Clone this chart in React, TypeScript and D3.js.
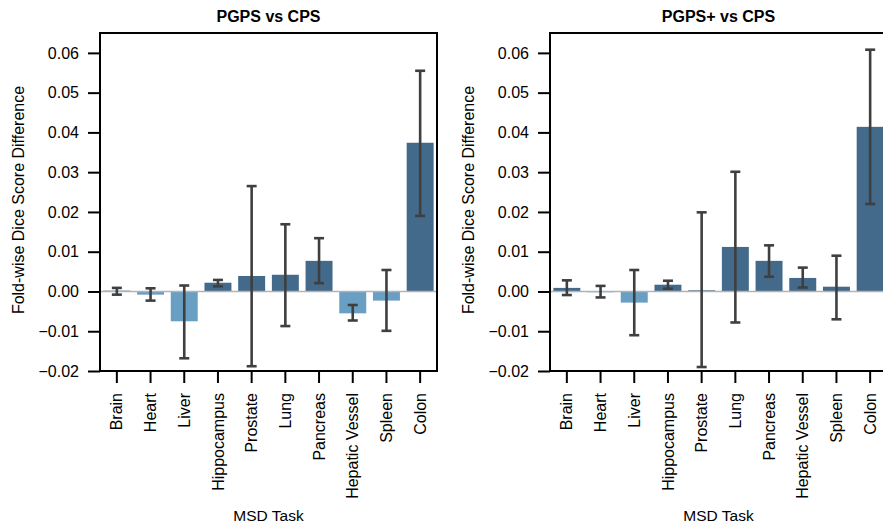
import React, { useEffect, useRef } from 'react';
import * as d3 from 'd3';

const tasks = ['Brain', 'Heart', 'Liver', 'Hippocampus', 'Prostate', 'Lung', 'Pancreas', 'Hepatic Vessel', 'Spleen', 'Colon'];

// PGPS vs CPS
const pgpsMean = [0.0002, -0.0008, -0.0075, 0.0022, 0.0039, 0.0042, 0.0077, -0.0055, -0.0023, 0.0374];
const pgpsLow = [-0.0008, -0.0023, -0.0168, 0.0013, -0.0188, -0.0087, 0.0021, -0.0073, -0.0099, 0.019];
const pgpsHigh = [0.0009, 0.0008, 0.0015, 0.0029, 0.0265, 0.0169, 0.0134, -0.0034, 0.0054, 0.0555];

// PGPS+ vs CPS
const plusMean = [0.0009, -0.0002, -0.0028, 0.0017, 0.0003, 0.0112, 0.0077, 0.0034, 0.0012, 0.0414];
const plusLow = [-0.0009, -0.0015, -0.011, 0.0007, -0.019, -0.0078, 0.0037, 0.001, -0.007, 0.022];
const plusHigh = [0.0028, 0.0014, 0.0054, 0.0027, 0.0199, 0.0301, 0.0116, 0.006, 0.009, 0.0608];

const yTicks = [-0.02, -0.01, 0, 0.01, 0.02, 0.03, 0.04, 0.05, 0.06];

const App = () => {
    const ref = useRef<SVGSVGElement>(null);

    useEffect(() => {
        const svg = d3.select(ref.current);
        svg.selectAll('*').remove();

        const panels = [
            { title: 'PGPS vs CPS', left: 100, mean: pgpsMean, low: pgpsLow, high: pgpsHigh },
            { title: 'PGPS+ vs CPS', left: 550, mean: plusMean, low: plusLow, high: plusHigh },
        ];
        const top = 33;
        const bottom = 371;
        const width = 337;
        const font = '"Liberation Sans", Arial, sans-serif';

        panels.forEach((p) => {
            const g = svg.append('g');
            const x = d3
                .scaleBand()
                .domain(tasks)
                .range([p.left, p.left + width])
                .paddingInner(0.2)
                .paddingOuter(0.1);
            const y = d3.scaleLinear().domain([-0.02, 0.065]).range([bottom, top]);

            // bars
            g.selectAll('rect.bar')
                .data(p.mean)
                .enter()
                .append('rect')
                .attr('x', (d, i) => x(tasks[i]))
                .attr('width', x.bandwidth())
                .attr('y', (d) => y(Math.max(0, d)))
                .attr('height', (d) => Math.abs(y(d) - y(0)))
                .attr('fill', (d) => (d >= 0 ? '#436a8a' : '#6a9fc4'));

            // zero line
            g.append('line')
                .attr('x1', p.left)
                .attr('x2', p.left + width)
                .attr('y1', y(0))
                .attr('y2', y(0))
                .attr('stroke', '#b3b3b3')
                .attr('stroke-width', 1.5);

            // error bars
            const cx = (i) => x(tasks[i]) + x.bandwidth() / 2;
            const eg = g.append('g').attr('stroke', '#3f3f3f').attr('stroke-width', 2.6);
            tasks.forEach((t, i) => {
                eg.append('line').attr('x1', cx(i)).attr('x2', cx(i)).attr('y1', y(p.low[i])).attr('y2', y(p.high[i]));
                [p.low[i], p.high[i]].forEach((v) => {
                    eg.append('line').attr('x1', cx(i) - 5).attr('x2', cx(i) + 5).attr('y1', y(v)).attr('y2', y(v));
                });
            });

            // frame
            g.append('rect')
                .attr('x', p.left)
                .attr('y', top)
                .attr('width', width)
                .attr('height', bottom - top)
                .attr('fill', 'none')
                .attr('stroke', '#000')
                .attr('stroke-width', 2);

            // y axis
            const ya = g.append('g').attr('transform', `translate(${p.left},0)`);
            ya.call(d3.axisLeft(y).tickValues(yTicks).tickSize(12).tickPadding(9).tickFormat(d3.format('.2f')));
            ya.select('.domain').remove();
            ya.selectAll('line').attr('stroke', '#000').attr('stroke-width', 2);
            ya.selectAll('text')
                .attr('font-family', font)
                .attr('font-size', 16)
                .attr('fill', '#000')
                .text((d) => d3.format('.2f')(d).replace('-', '\u2212'));

            // x axis
            const xa = g.append('g').attr('transform', `translate(0,${bottom})`);
            xa.call(d3.axisBottom(x).tickSize(12).tickPadding(10));
            xa.select('.domain').remove();
            xa.selectAll('line').attr('stroke', '#000').attr('stroke-width', 2);
            xa.selectAll('text')
                .attr('font-family', font)
                .attr('font-size', 16)
                .attr('fill', '#000')
                .attr('transform', 'rotate(-90)')
                .attr('text-anchor', 'end')
                .attr('dy', '0.35em')
                .attr('x', -22)
                .attr('y', 0);

            // labels
            g.append('text')
                .attr('x', p.left + width / 2)
                .attr('y', 22)
                .attr('text-anchor', 'middle')
                .attr('font-family', font)
                .attr('font-weight', 'bold')
                .attr('font-size', 16)
                .text(p.title);

            g.append('text')
                .attr('x', p.left + width / 2)
                .attr('y', 521)
                .attr('text-anchor', 'middle')
                .attr('font-family', font)
                .attr('font-size', 15.5)
                .text('MSD Task');

            g.append('text')
                .attr('transform', `translate(${p.left - 76},${(top + bottom) / 2 - 2}) rotate(-90)`)
                .attr('text-anchor', 'middle')
                .attr('font-family', font)
                .attr('font-size', 16)
                .text('Fold-wise Dice Score Difference');
        });
    }, []);

    return (
        <svg
            ref={ref}
            width={883}
            height={527}
            style={{ position: 'absolute', left: 0, top: 0, background: '#fff' }}
        />
    );
};

export default App;
